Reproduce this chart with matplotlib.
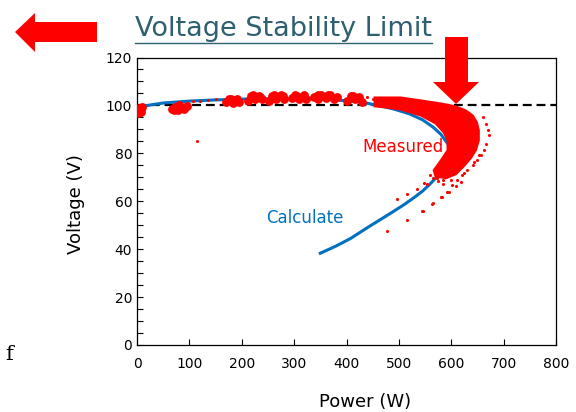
import numpy as np
import matplotlib.pyplot as plt
from matplotlib.patches import Polygon

# calculated P-V curve (upper branch -> nose -> lower branch)
calc_p = [0, 20, 50, 100, 150, 200, 250, 300, 350, 400, 430, 460, 490, 520, 545,
          565, 580, 590, 598, 603, 603, 601, 596, 590, 580, 570, 560, 545, 530,
          510, 490, 471, 440, 408, 380, 350]
calc_v = [99, 100, 101, 101.8, 102.3, 102.6, 102.8, 102.8, 102.6, 102, 101.3, 100,
          98.5, 96.5, 94, 91, 88, 85, 82.5, 80, 79, 77.5, 76.3, 74.8, 72.2, 69.6,
          67.3, 64.2, 61.7, 58.6, 55.8, 53.2, 49, 44.5, 41.3, 38.3]

# dense clusters of measured points along the upper branch
blob_p = [1, 3, 5, 8, 10, 2, 7,
          66, 72, 78, 84, 90, 95, 80, 70, 88,
          170, 176, 183, 190, 195, 180,
          212, 218, 225, 232, 238, 222, 235,
          252, 258, 266, 274, 281, 262, 278,
          295, 302, 310, 318, 323, 306,
          338, 346, 352, 360, 368, 376, 382, 345, 365,
          400, 408, 416, 424, 429, 412]
blob_v = [98, 99, 97.5, 98.5, 99.2, 96.8, 97.2,
          98.5, 99.5, 98, 99.5, 98.5, 99.8, 100.3, 98, 99,
          101.5, 102.5, 101, 102.5, 101.5, 102.8,
          102, 103.8, 102.5, 104, 102.5, 104.2, 103.5,
          102, 104, 102.8, 104.3, 102.8, 104.2, 103.8,
          103, 104.5, 102.8, 104.2, 102.8, 103.8,
          103.5, 102.5, 104.5, 103, 104.2, 102.8, 103.5, 104.3, 104.5,
          102, 103.8, 102.5, 103.5, 101.5, 104]

# outline of the dense measured cloud near the voltage stability limit
cloud_p = [453.6, 503, 541.6, 580, 608.6, 627.8, 641, 649, 652.6, 652.6, 647, 637,
           624, 608.6, 589.5, 570, 566.5, 580, 593, 593, 585.6, 570, 541.6, 503,
           474.6, 453.6]
cloud_v = [103.3, 103.3, 102.1, 100.8, 99.6, 97.9, 95.8, 92.9, 89.6, 85.4, 81.25,
           77.9, 74.6, 71.25, 69.6, 70.4, 72.9, 77, 81.25, 85.4, 88.75, 92.5, 95.8,
           98.3, 99.2, 99.6]

# scattered measured points
dot_p = [107, 120, 135, 150, 440, 450, 115,
         659.7, 666, 669.3, 672.4, 666, 662.8, 656.5, 650, 640.6, 631, 621.4,
         611.9, 602.3, 592.7, 583.2, 564, 544.9, 516.2, 478,
         497, 516.2, 535.3, 554.5, 573.6, 592.7, 611.9,
         547.4, 564.6, 583.7, 580, 564.6, 545.5, 595.2, 608.6, 618.2, 624, 643,
         652.6, 575, 585, 600, 560, 590]
dot_v = [102, 102, 102.3, 102.5, 103.5, 102.5, 85,
         95.1, 92.4, 89.6, 87.5, 84, 81.25, 79.2, 77.1, 75, 72.9, 70.8,
         68.75, 66.7, 63.9, 61.8, 59, 56, 52.1, 47.6,
         61.1, 63.2, 65.3, 67.4, 69.7, 71.5, 73.2,
         67.5, 69.6, 68.75, 61.7, 59.2, 55.8, 63.75, 66.25, 67.9, 71.7, 76.25,
         79.2, 68.5, 67.2, 69, 70.8, 70]

limit_v = 100
x_ticks = [0, 100, 200, 300, 400, 500, 600, 700, 800]
y_ticks = [0, 20, 40, 60, 80, 100, 120]

W, H = 576, 412
fig = plt.figure(figsize=(W / 100, H / 100), dpi=100)
ax = fig.add_axes([137 / W, 1 - 345 / H, 419 / W, 287.5 / H])

ax.plot([0, 800], [limit_v, limit_v], color='black', lw=1.6, ls=(0, (4, 2.2)), zorder=1)
ax.plot(calc_p, calc_v, color='#0070C0', lw=2.2, zorder=2)
ax.fill(cloud_p, cloud_v, color='red', lw=1.5, zorder=3)
ax.scatter(blob_p, blob_v, s=40, color='red', lw=0, zorder=3)
ax.scatter(dot_p, dot_v, s=5, color='red', lw=0, zorder=3)

ax.text(321, 53, 'Calculate', color='#0070C0', fontsize=12, ha='center', va='center')
ax.text(430, 82.5, 'Measured', color='red', fontsize=12, ha='left', va='center')

ax.set_xlim(0, 800)
ax.set_ylim(0, 120)
ax.set_xticks(x_ticks)
ax.set_yticks(y_ticks)
ax.set_yticks(np.arange(0, 121, 5), minor=True)
ax.tick_params(direction='in', length=4, width=0.8, labelsize=10, colors='black')
ax.tick_params(axis='x', pad=9)
ax.tick_params(axis='y', which='minor', direction='in', length=4, width=0.8)
for s in ax.spines.values():
    s.set_linewidth(0.9)

fig.text(365 / W, 1 - 402 / H, 'Power (W)', fontsize=13, ha='center', va='center')
fig.text(76 / W, 1 - 204 / H, 'Voltage (V)', fontsize=13, ha='center', va='center',
         rotation=90)

# title and decorations
fig.text(135 / W, 1 - 36 / H, 'Voltage Stability Limit', fontsize=19.5,
         color='#2E6070', ha='left', va='baseline')
fig.add_artist(plt.Line2D([135 / W, 432 / W], [1 - 43 / H, 1 - 43 / H],
                          transform=fig.transFigure, color='#2E6070', lw=1))


def px(pts):
    return [(x / W, 1 - y / H) for x, y in pts]


left_arrow = [(15, 32), (35, 13), (35, 22), (97, 22), (97, 42), (35, 42), (35, 52)]
down_arrow = [(445, 37), (468, 37), (468, 82), (479, 82), (456, 104), (433, 82), (445, 82)]
for pts in (left_arrow, down_arrow):
    fig.add_artist(Polygon(px(pts), closed=True, transform=fig.transFigure,
                           color='red', lw=0, zorder=5))

fig.text(5 / W, 1 - 355 / H, 'f', fontsize=15, family='DejaVu Serif', va='center')

fig.savefig('out.png', dpi=100)
